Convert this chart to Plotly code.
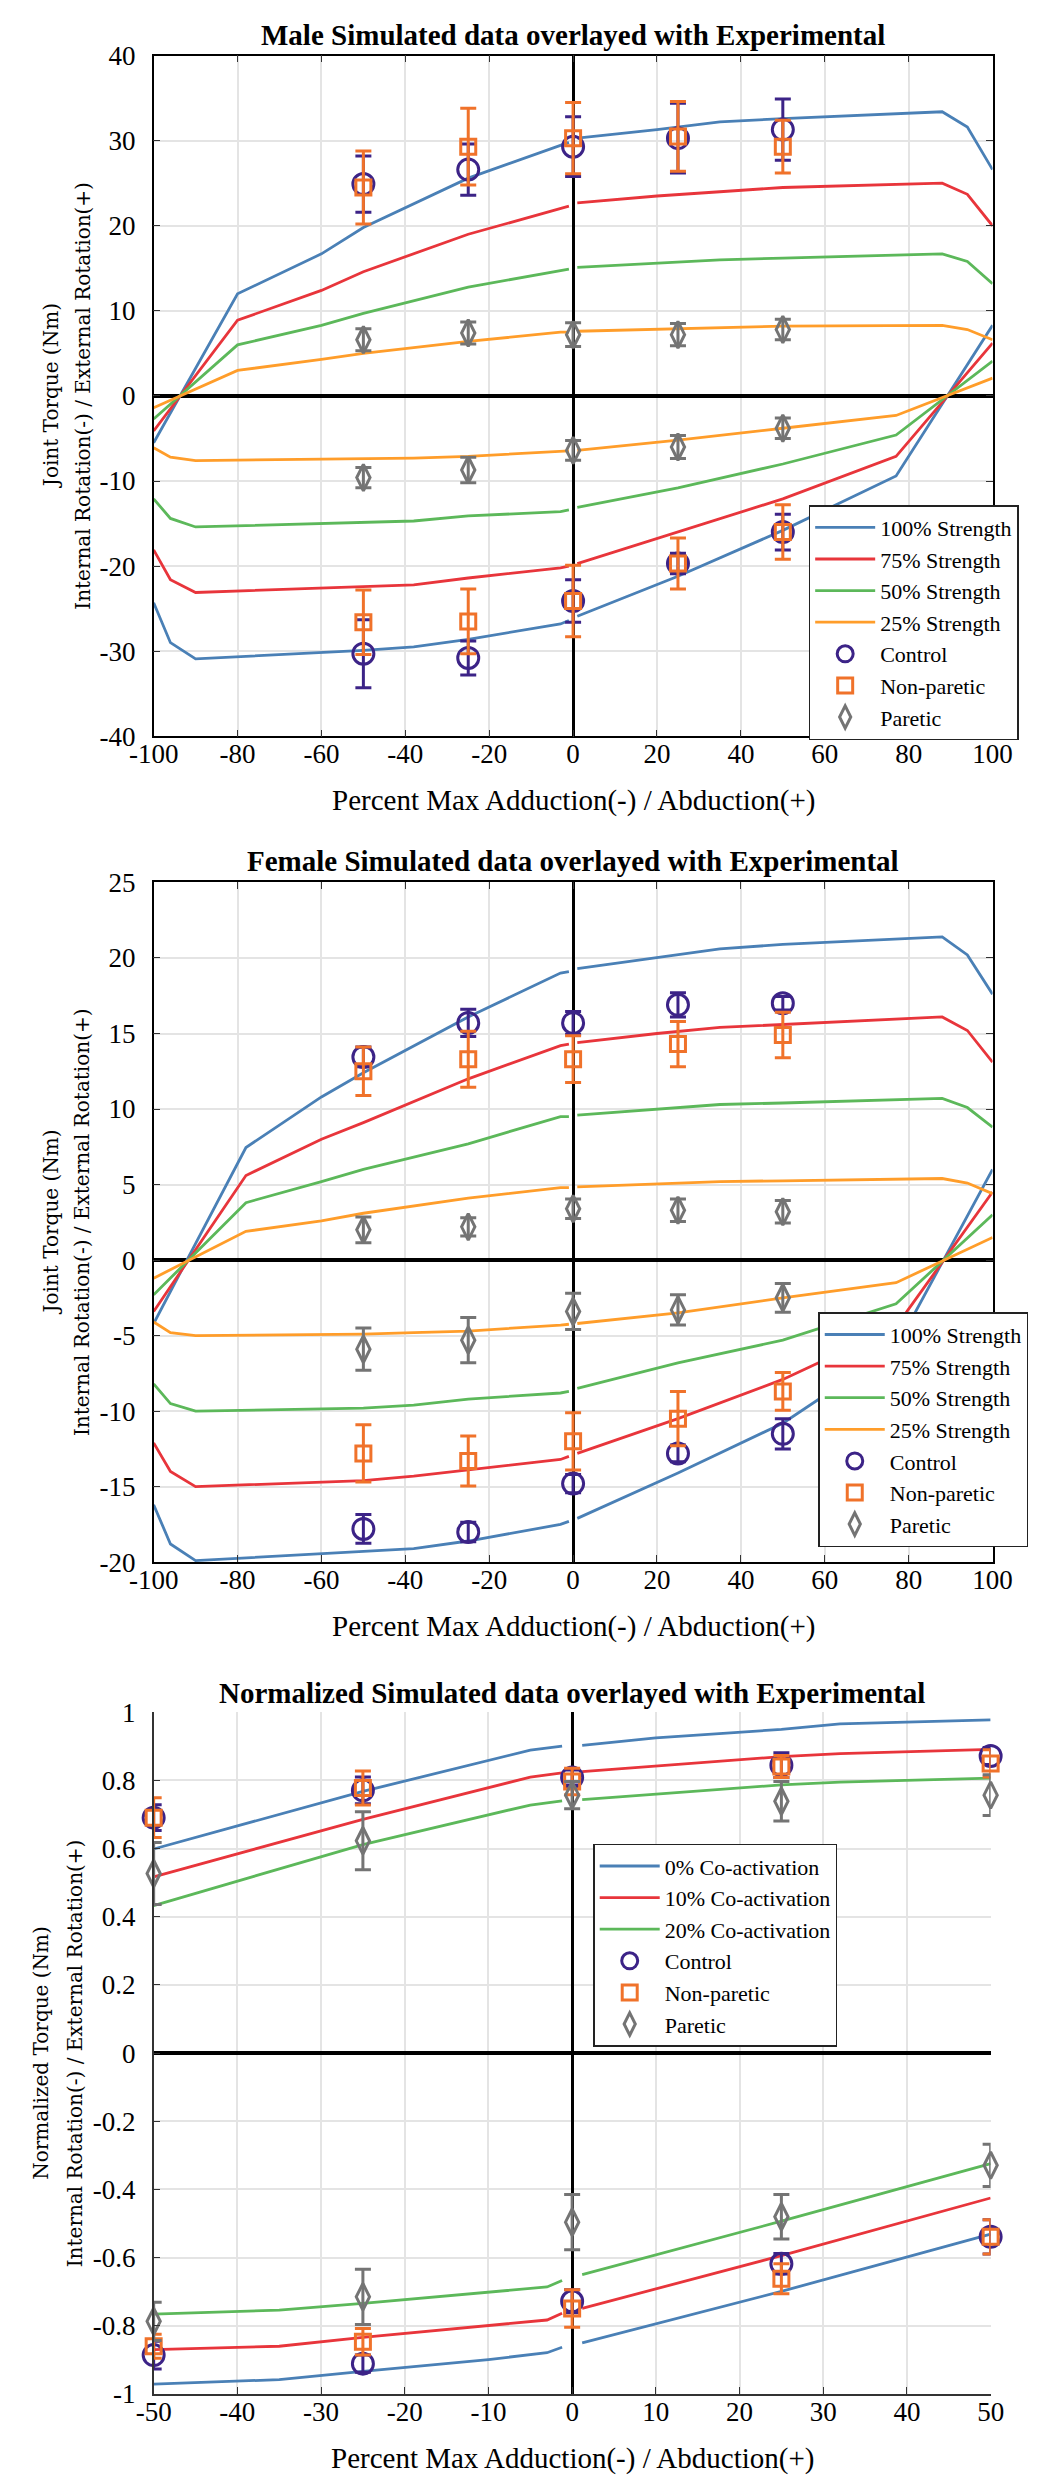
import plotly.graph_objects as go

W, H = 1062, 2480

# ---------------- DATA ----------------
# Male (Nm) simulated curves: x positions (percent max adduction/abduction)
male_pos_x_left = [-100, -80, -60, -50, -25, -3, -1]
male_pos_x_right = [1, 20, 35, 50, 88, 94, 100]
male_pos_100_left = [-5.5, 12.0, 16.7, 19.8, 25.6, 29.5, 29.8]
male_pos_100_right = [30.3, 31.3, 32.2, 32.6, 33.4, 31.6, 26.6]
male_pos_75_left = [-4.1, 8.9, 12.4, 14.6, 19.0, 22.1, 22.3]
male_pos_75_right = [22.7, 23.5, 24.0, 24.5, 25.0, 23.7, 20.0]
male_pos_50_left = [-2.7, 6.0, 8.3, 9.7, 12.8, 14.8, 14.9]
male_pos_50_right = [15.1, 15.6, 16.0, 16.2, 16.7, 15.8, 13.2]
male_pos_25_left = [-1.4, 3.0, 4.3, 5.0, 6.4, 7.5, 7.5]
male_pos_25_right = [7.6, 7.85, 8.0, 8.2, 8.3, 7.8, 6.6]

male_neg_x_left = [-100, -96, -90, -50, -38, -25, -3, -1]
male_neg_x_right = [1, 25, 50, 77, 100]
male_neg_100_left = [-24.3, -29.0, -30.9, -29.9, -29.5, -28.6, -26.8, -26.4]
male_neg_100_right = [-25.9, -21.2, -15.8, -9.4, 8.3]
male_neg_75_left = [-18.1, -21.6, -23.1, -22.4, -22.2, -21.4, -20.2, -20.0]
male_neg_75_right = [-19.7, -16.0, -12.1, -7.1, 6.2]
male_neg_50_left = [-12.1, -14.4, -15.4, -14.9, -14.7, -14.1, -13.6, -13.4]
male_neg_50_right = [-13.1, -10.8, -8.0, -4.6, 4.1]
male_neg_25_left = [-6.1, -7.2, -7.6, -7.4, -7.3, -7.1, -6.5, -6.45]
male_neg_25_right = [-6.4, -5.2, -3.8, -2.3, 2.1]

# Female (Nm) simulated curves
female_pos_x_left = [-100, -78, -60, -50, -25, -3, -1]
female_pos_x_right = [1, 20, 35, 50, 88, 94, 100]
female_pos_100_left = [-4.2, 7.45, 10.8, 12.4, 16.1, 19.0, 19.1]
female_pos_100_right = [19.3, 20.0, 20.6, 20.9, 21.4, 20.2, 17.6]
female_pos_75_left = [-3.4, 5.6, 8.0, 9.1, 12.0, 14.2, 14.3]
female_pos_75_right = [14.4, 15.0, 15.4, 15.6, 16.1, 15.2, 13.1]
female_pos_50_left = [-2.3, 3.8, 5.2, 6.0, 7.7, 9.5, 9.5]
female_pos_50_right = [9.6, 10.0, 10.3, 10.4, 10.7, 10.1, 8.8]
female_pos_25_left = [-1.2, 1.9, 2.6, 3.1, 4.1, 4.8, 4.8]
female_pos_25_right = [4.85, 5.05, 5.2, 5.25, 5.4, 5.1, 4.4]

female_neg_x_left = [-100, -96, -90, -50, -38, -25, -3, -1]
female_neg_x_right = [1, 25, 50, 77, 100]
female_neg_100_left = [-16.2, -18.8, -19.9, -19.3, -19.1, -18.6, -17.5, -17.3]
female_neg_100_right = [-17.1, -14.1, -10.8, -5.8, 6.0]
female_neg_75_left = [-12.1, -14.0, -15.0, -14.6, -14.3, -13.9, -13.2, -13.0]
female_neg_75_right = [-12.8, -10.5, -7.9, -4.4, 4.5]
female_neg_50_left = [-8.2, -9.5, -10.0, -9.8, -9.6, -9.2, -8.8, -8.7]
female_neg_50_right = [-8.5, -6.8, -5.3, -2.9, 3.0]
female_neg_25_left = [-4.1, -4.8, -5.0, -4.9, -4.8, -4.7, -4.3, -4.25]
female_neg_25_right = [-4.2, -3.5, -2.5, -1.5, 1.5]

# Normalized simulated curves
norm_pos_x_left = [-50, -25, -5, -1.2]
norm_pos_x_right = [1.2, 10, 25, 32, 50]
norm_pos_0_left = [0.599, 0.768, 0.889, 0.901]
norm_pos_0_right = [0.903, 0.925, 0.950, 0.966, 0.978]
norm_pos_10_left = [0.517, 0.686, 0.810, 0.822]
norm_pos_10_right = [0.826, 0.842, 0.870, 0.879, 0.891]
norm_pos_20_left = [0.433, 0.612, 0.728, 0.740]
norm_pos_20_right = [0.744, 0.760, 0.787, 0.795, 0.807]

norm_neg_x_left = [-50, -35, -25, -10, -3, -1.2]
norm_neg_x_right = [1.2, 25, 50]
norm_neg_0_left = [-0.971, -0.958, -0.934, -0.899, -0.879, -0.863]
norm_neg_0_right = [-0.850, -0.699, -0.531]
norm_neg_10_left = [-0.870, -0.860, -0.834, -0.800, -0.783, -0.763]
norm_neg_10_right = [-0.749, -0.594, -0.425]
norm_neg_20_left = [-0.766, -0.754, -0.734, -0.702, -0.686, -0.667]
norm_neg_20_right = [-0.650, -0.493, -0.324]

# Experimental data (first five: external rotation, last five: internal rotation)
exp_x = [-50, -25, 0, 25, 50, -50, -25, 0, 25, 50]

male_control = [24.9, 26.6, 29.3, 30.3, 31.3, -30.3, -30.8, -24.1, -19.7, -16.0]
male_control_sd = [3.3, 3.0, 3.5, 4.1, 3.6, 4.0, 2.0, 2.5, 1.2, 2.1]
male_nonparetic = [24.5, 29.3, 30.3, 30.5, 29.3, -26.6, -26.5, -24.1, -19.7, -16.0]
male_nonparetic_sd = [4.3, 4.5, 4.2, 4.1, 3.1, 3.8, 3.8, 4.2, 3.0, 3.2]
male_paretic = [6.6, 7.4, 7.2, 7.2, 7.8, -9.6, -8.7, -6.4, -6.0, -3.8]
male_paretic_sd = [1.3, 1.3, 1.4, 1.3, 1.2, 1.2, 1.5, 1.15, 1.35, 1.2]

female_control = [13.45, 15.7, 15.7, 16.9, 17.0, -17.8, -18.0, -14.8, -12.8, -11.5]
female_control_sd = [0.65, 0.9, 0.75, 0.8, 0.45, 0.95, 0.65, 0.6, 0.55, 1.0]
female_nonparetic = [12.5, 13.3, 13.3, 14.3, 14.9, -12.8, -13.3, -12.0, -10.5, -8.7]
female_nonparetic_sd = [1.6, 1.85, 1.55, 1.5, 1.5, 1.9, 1.65, 1.9, 1.8, 1.25]
female_paretic = [2.0, 2.2, 3.4, 3.3, 3.2, -5.9, -5.3, -3.4, -3.3, -2.5]
female_paretic_sd = [0.85, 0.6, 0.65, 0.75, 0.75, 1.4, 1.5, 1.2, 1.0, 0.95]

norm_control = [0.691, 0.771, 0.809, 0.845, 0.872, -0.886, -0.911, -0.728, -0.618, -0.539]
norm_control_sd = [0.038, 0.039, 0.022, 0.036, 0.025, 0.041, 0.025, 0.034, 0.030, 0.050]
norm_nonparetic = [0.691, 0.778, 0.797, 0.841, 0.850, -0.860, -0.847, -0.749, -0.662, -0.539]
norm_nonparetic_sd = [0.058, 0.050, 0.039, 0.032, 0.040, 0.035, 0.039, 0.055, 0.044, 0.050]
norm_paretic = [0.527, 0.623, 0.757, 0.739, 0.757, -0.787, -0.715, -0.496, -0.480, -0.329]
norm_paretic_sd = [0.091, 0.085, 0.040, 0.058, 0.060, 0.056, 0.081, 0.081, 0.065, 0.062]

strength_names = ["100% Strength", "75% Strength", "50% Strength", "25% Strength"]
coact_names = ["0% Co-activation", "10% Co-activation", "20% Co-activation"]
group_names = ["Control", "Non-paretic", "Paretic"]

titles = ["Male Simulated data overlayed with Experimental",
          "Female Simulated data overlayed with Experimental",
          "Normalized Simulated data overlayed with Experimental"]
xlabel = "Percent Max Adduction(-) / Abduction(+)"
ylabel1 = ["Joint Torque (Nm)", "Joint Torque (Nm)", "Normalized Torque (Nm)"]
ylabel2 = "Internal Rotation(-) / External Rotation(+)"

x_ticks_12 = [-100, -80, -60, -40, -20, 0, 20, 40, 60, 80, 100]
x_ticktext_12 = ["-100", "-80", "-60", "-40", "-20", "0", "20", "40", "60", "80", "100"]
x_ticks_3 = [-50, -40, -30, -20, -10, 0, 10, 20, 30, 40, 50]
x_ticktext_3 = ["-50", "-40", "-30", "-20", "-10", "0", "10", "20", "30", "40", "50"]
y_ticks_1 = [-40, -30, -20, -10, 0, 10, 20, 30, 40]
y_ticktext_1 = ["-40", "-30", "-20", "-10", "0", "10", "20", "30", "40"]
y_ticks_2 = [-20, -15, -10, -5, 0, 5, 10, 15, 20, 25]
y_ticktext_2 = ["-20", "-15", "-10", "-5", "0", "5", "10", "15", "20", "25"]
y_ticks_3 = [-1, -0.8, -0.6, -0.4, -0.2, 0, 0.2, 0.4, 0.6, 0.8, 1]
y_ticktext_3 = ["-1", "-0.8", "-0.6", "-0.4", "-0.2", "0", "0.2", "0.4", "0.6", "0.8", "1"]

# ---------------- STYLE ----------------
line_colors = ["#4a80b6", "#e8353b", "#5cb85a", "#ff9d2a"]
group_colors = ["#3c2387", "#f0722a", "#747474"]
group_symbols = ["circle-open", "square-open", "diamond-tall-open"]
group_sizes = [21, 15, 19]
SERIF = "Liberation Serif, Times New Roman, serif"
YFONT = "DejaVu Serif, serif"
GRID = "#e4e4e4"


def join(a, b):
    return list(a) + [None] + list(b)


fig = go.Figure()

# panel pixel boxes (left, right, top, bottom)
boxes = [(126, 1002, 33, 722), (126, 1002, 870, 1558), (126, 1000, 1710, 2400)]


def add_lines(xa, ya, names, series_pos, series_neg, xpos, xneg, legend):
    for i, nm in enumerate(names):
        xs = join(xpos[0], xpos[1]) + [None] + join(xneg[0], xneg[1])
        ys = join(series_pos[i][0], series_pos[i][1]) + [None] + join(series_neg[i][0], series_neg[i][1])
        fig.add_trace(go.Scatter(
            x=xs, y=ys, mode="lines", name=nm, xaxis=xa, yaxis=ya, legend=legend,
            line=dict(color=line_colors[i], width=2.8), connectgaps=False))


def add_exp(xa, ya, datas, sds, legend):
    for i, nm in enumerate(group_names):
        fig.add_trace(go.Scatter(
            x=exp_x, y=datas[i], mode="markers", name=nm, xaxis=xa, yaxis=ya, legend=legend,
            cliponaxis=False,
            marker=dict(symbol=group_symbols[i], size=group_sizes[i], color=group_colors[i],
                        line=dict(width=3, color=group_colors[i])),
            error_y=dict(type="data", array=sds[i], visible=True, color=group_colors[i],
                         thickness=3, width=8)))


add_lines("x", "y", strength_names,
          [(male_pos_100_left, male_pos_100_right), (male_pos_75_left, male_pos_75_right),
           (male_pos_50_left, male_pos_50_right), (male_pos_25_left, male_pos_25_right)],
          [(male_neg_100_left, male_neg_100_right), (male_neg_75_left, male_neg_75_right),
           (male_neg_50_left, male_neg_50_right), (male_neg_25_left, male_neg_25_right)],
          (male_pos_x_left, male_pos_x_right), (male_neg_x_left, male_neg_x_right), "legend")
add_exp("x", "y", [male_control, male_nonparetic, male_paretic],
        [male_control_sd, male_nonparetic_sd, male_paretic_sd], "legend")

add_lines("x2", "y2", strength_names,
          [(female_pos_100_left, female_pos_100_right), (female_pos_75_left, female_pos_75_right),
           (female_pos_50_left, female_pos_50_right), (female_pos_25_left, female_pos_25_right)],
          [(female_neg_100_left, female_neg_100_right), (female_neg_75_left, female_neg_75_right),
           (female_neg_50_left, female_neg_50_right), (female_neg_25_left, female_neg_25_right)],
          (female_pos_x_left, female_pos_x_right), (female_neg_x_left, female_neg_x_right), "legend2")
add_exp("x2", "y2", [female_control, female_nonparetic, female_paretic],
        [female_control_sd, female_nonparetic_sd, female_paretic_sd], "legend2")

add_lines("x3", "y3", coact_names,
          [(norm_pos_0_left, norm_pos_0_right), (norm_pos_10_left, norm_pos_10_right),
           (norm_pos_20_left, norm_pos_20_right)],
          [(norm_neg_0_left, norm_neg_0_right), (norm_neg_10_left, norm_neg_10_right),
           (norm_neg_20_left, norm_neg_20_right)],
          (norm_pos_x_left, norm_pos_x_right), (norm_neg_x_left, norm_neg_x_right), "legend3")
add_exp("x3", "y3", [norm_control, norm_nonparetic, norm_paretic],
        [norm_control_sd, norm_nonparetic_sd, norm_paretic_sd], "legend3")


def xdom(b):
    return [b[0] / W, b[1] / W]


def ydom(b):
    return [1 - b[3] / H, 1 - b[2] / H]


tickfont = dict(family=SERIF, size=27, color="black")


def xaxis_cfg(b, rng, tv, tt, anchor, box=True):
    return dict(domain=xdom(b), range=rng, tickvals=tv, ticktext=tt, anchor=anchor,
                showgrid=True, gridcolor=GRID, gridwidth=1.5,
                zeroline=True, zerolinecolor="black", zerolinewidth=2.5,
                showline=True, linecolor="black" if box else "#333", linewidth=1.5,
                mirror="ticks" if box else False, ticks="inside", ticklen=7,
                tickcolor="#333", tickwidth=1.2,
                tickfont=tickfont, ticklabelstandoff=-7, fixedrange=True)


def yaxis_cfg(b, rng, tv, tt, anchor, box=True):
    return dict(domain=ydom(b), range=rng, tickvals=tv, ticktext=tt, anchor=anchor,
                showgrid=True, gridcolor=GRID, gridwidth=1.5,
                zeroline=True, zerolinecolor="black", zerolinewidth=4,
                showline=True, linecolor="black" if box else "#333", linewidth=1.5,
                mirror="ticks" if box else False, ticks="inside", ticklen=7,
                tickcolor="#333", tickwidth=1.2,
                tickfont=tickfont, ticklabelstandoff=11, fixedrange=True)


legend_common = dict(xanchor="left", yanchor="top", bgcolor="white", bordercolor="#222",
                     borderwidth=1.5, font=dict(family=SERIF, size=22, color="black"),
                     itemwidth=60, tracegroupgap=0)

fig.update_layout(
    width=W, height=H, margin=dict(l=0, r=0, t=0, b=0),
    paper_bgcolor="white", plot_bgcolor="white",
    xaxis=xaxis_cfg(boxes[0], [-100, 100], x_ticks_12, x_ticktext_12, "y"),
    yaxis=yaxis_cfg(boxes[0], [-40, 40], y_ticks_1, y_ticktext_1, "x"),
    xaxis2=xaxis_cfg(boxes[1], [-100, 100], x_ticks_12, x_ticktext_12, "y2"),
    yaxis2=yaxis_cfg(boxes[1], [-20, 25], y_ticks_2, y_ticktext_2, "x2"),
    xaxis3=xaxis_cfg(boxes[2], [-50, 50], x_ticks_3, x_ticktext_3, "y3", box=False),
    yaxis3=yaxis_cfg(boxes[2], [-1, 1], y_ticks_3, y_ticktext_3, "x3", box=False),
    legend=dict(x=810 / W, y=1 - 488 / H, **legend_common),
    legend2=dict(x=820 / W, y=1 - 1305 / H, **legend_common),
    legend3=dict(x=585 / W, y=1 - 1843 / H, **legend_common),
    showlegend=True,
)

# text annotations: titles, x labels, y labels
title_y = [12, 848, 1690]
xlabel_y = [787, 1623, 2465]
ylab_x = [(19, 52), (19, 52), (8, 44)]
ann = []
for i, b in enumerate(boxes):
    cx = (b[0] + b[1]) / 2 / W
    cy = 1 - (b[2] + b[3]) / 2 / H
    ann.append(dict(text="<b>" + titles[i] + "</b>", x=cx, y=1 - title_y[i] / H, xref="paper", yref="paper",
                    showarrow=False, xanchor="center", yanchor="middle",
                    font=dict(family=SERIF, size=29, color="black")))
    ann.append(dict(text=xlabel, x=cx, y=1 - xlabel_y[i] / H, xref="paper", yref="paper",
                    showarrow=False, xanchor="center", yanchor="middle",
                    font=dict(family=SERIF, size=29, color="black")))
    ann.append(dict(text=ylabel1[i], x=ylab_x[i][0] / W, y=cy, xref="paper", yref="paper",
                    showarrow=False, xanchor="center", yanchor="middle", textangle=-90,
                    font=dict(family=YFONT, size=20, color="black")))
    ann.append(dict(text=ylabel2, x=ylab_x[i][1] / W, y=cy, xref="paper", yref="paper",
                    showarrow=False, xanchor="center", yanchor="middle", textangle=-90,
                    font=dict(family=YFONT, size=20, color="black")))
fig.update_layout(annotations=ann)

fig.write_html("out.html")
